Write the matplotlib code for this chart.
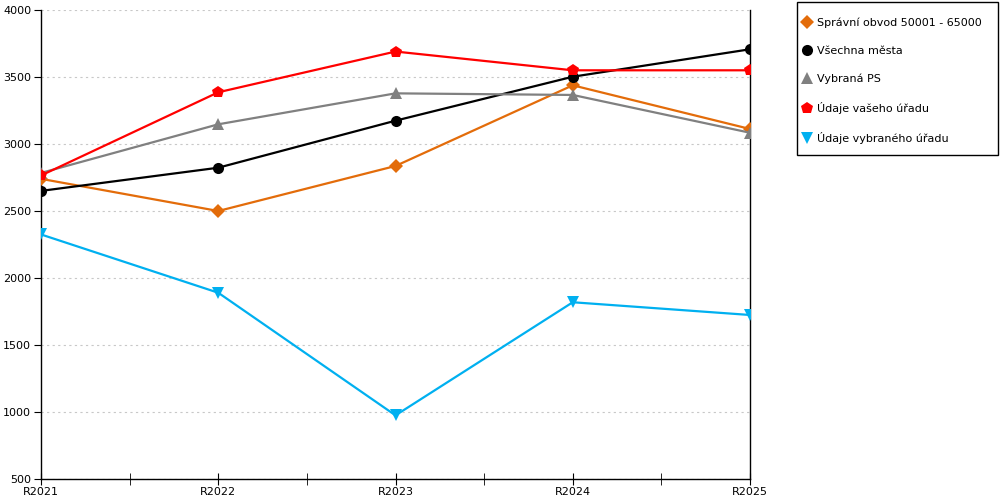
import matplotlib
matplotlib.use("Agg")
import matplotlib.pyplot as plt
from matplotlib.lines import Line2D
from matplotlib.patches import Rectangle

categories = ["R2021", "R2022", "R2023", "R2024", "R2025"]
spravni_obvod = [2740, 2500, 2836, 3438, 3112]
vsechna_mesta = [2650, 2823, 3174, 3502, 3707]
vybrana_ps = [2784, 3147, 3378, 3366, 3084]
udaje_vaseho = [2765, 3386, 3690, 3550, 3550]
udaje_vybraneho = [2325, 1890, 975, 1819, 1724]

series = [
    ("Správní obvod 50001 - 65000", spravni_obvod, "#E36C0A", "D", 7),
    ("Všechna města", vsechna_mesta, "#000000", "o", 8),
    ("Vybraná PS", vybrana_ps, "#808080", "^", 9),
    ("Údaje vašeho úřadu", udaje_vaseho, "#FF0000", "p", 9),
    ("Údaje vybraného úřadu", udaje_vybraneho, "#00B0F0", "v", 9),
]

plt.rcParams['font.family'] = ['DejaVu Sans']
fig = plt.figure(figsize=(10, 5), dpi=100)
ax = fig.add_axes([0.041, 0.042, 0.709, 0.938])

x = list(range(len(categories)))
handles = []
for label, vals, color, marker, ms in series:
    ax.plot(x, vals, color=color, linewidth=1.6, marker=marker, markersize=ms,
            markeredgewidth=0, zorder=3)
    handles.append(Line2D([], [], linestyle='none', marker=marker, color=color,
                          markersize=ms, markeredgewidth=0, label=label))

ax.set_xlim(0, len(categories) - 1)
ax.set_ylim(500, 4000)
ax.set_yticks(range(500, 4001, 500))
ax.set_xticks(x)
ax.set_xticklabels(categories)
ax.set_xticks([i + 0.5 for i in range(len(categories) - 1)], minor=True)

ax.grid(axis='y', color='#C8C8C8', linestyle=(0, (2, 3)), linewidth=0.8)
ax.set_axisbelow(True)
ax.spines['top'].set_visible(False)
for s in ['left', 'bottom', 'right']:
    ax.spines[s].set_color('black')
    ax.spines[s].set_linewidth(1.0)

ax.tick_params(axis='y', direction='out', length=5, labelsize=8, pad=2)
ax.tick_params(axis='x', which='both', direction='inout', length=9, labelsize=8, pad=1)

# legend frame
fig.patches.append(Rectangle((0.797, 0.69), 0.201, 0.306, transform=fig.transFigure,
                             fill=False, edgecolor='black', linewidth=1.0))
leg = fig.legend(handles=handles, loc='upper left',
                 bbox_to_anchor=(0.802, 0.965),
                 frameon=False, fontsize=8,
                 handlelength=0.9, handletextpad=0.45,
                 labelspacing=1.6, borderpad=0, borderaxespad=0)

fig.savefig("out.png", dpi=100)
